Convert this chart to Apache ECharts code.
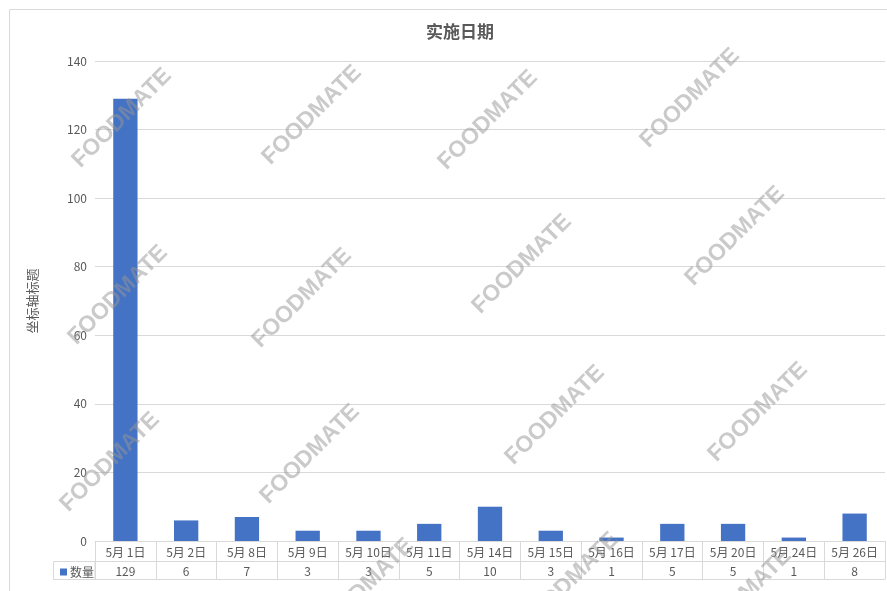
<!DOCTYPE html>
<html>
<head>
<meta charset="utf-8">
<script src="https://cdn.jsdelivr.net/npm/echarts@6/dist/echarts.min.js"></script>
<style>
html,body{margin:0;padding:0;background:#fff;}
#c{width:887px;height:591px;}
</style>
</head>
<body>
<div id="c"></div>
<script>
var categories = ['5月 1日','5月 2日','5月 8日','5月 9日','5月 10日','5月 11日','5月 14日','5月 15日','5月 16日','5月 17日','5月 20日','5月 24日','5月 26日'];
var counts = [129, 6, 7, 3, 3, 5, 10, 3, 1, 5, 5, 1, 8];
var seriesName = '数量';
var chartTitle = '实施日期';
var yTitle = '坐标轴标题';
var watermarkText = 'FOODMATE';
var watermarkSpots = [[122,118],[312,115],[488,120],[690,98],[118,295],[302,298],[522,264],[735,236],[110,462],[310,454],[555,415],[758,412],[364,588],[569,582],[742,598]];

var font = '"Noto Sans CJK SC", "Liberation Sans", sans-serif';
var grayLine = '#d9d9d9';
var txt = '#595959';

var graphics = [
  {type:'rect', shape:{x:9.5,y:9.5,width:900,height:620}, style:{fill:'none',stroke:grayLine,lineWidth:1}, z:0, silent:true},
  {type:'rect', shape:{x:53.5,y:561.5,width:41.5,height:18}, style:{fill:'none',stroke:grayLine,lineWidth:1}, z:1, silent:true}
];
watermarkSpots.forEach(function(p){
  graphics.push({type:'text', x:p[0], y:p[1], rotation:Math.PI/4, z:100, silent:true,
    style:{text:watermarkText, fill:'rgba(150,150,150,0.5)', font:'bold 23px "Liberation Sans", Arial, sans-serif', textAlign:'center', textVerticalAlign:'middle'}});
});

var chart = echarts.init(document.getElementById('c'));
chart.setOption({
  animation:false,
  backgroundColor:'#fff',
  title:{text:chartTitle, left:455, top:18, textAlign:'center', textStyle:{fontFamily:font, fontSize:17, fontWeight:'bold', color:txt}},
  legend:{data:[seriesName], left:55, top:561, icon:'rect', itemWidth:7, itemHeight:7, itemGap:4, textStyle:{fontFamily:font, fontSize:12, color:txt, padding:[0,0,0,-2]}, selectedMode:false},
  grid:{left:95, right:2, top:61, bottom:50, containLabel:false},
  xAxis:[
    {type:'category', data:categories, position:'bottom', boundaryGap:true,
      axisLine:{show:true, lineStyle:{color:grayLine}},
      axisTick:{show:true, alignWithLabel:false, interval:0, length:38, lineStyle:{color:grayLine}},
      axisLabel:{interval:0, margin:5, fontFamily:font, fontSize:12, color:txt},
      splitLine:{show:false}},
    {type:'category', data:counts.map(String), position:'bottom', offset:20, boundaryGap:true,
      axisLine:{show:true, lineStyle:{color:grayLine}},
      axisTick:{show:false},
      axisLabel:{interval:0, margin:4, fontFamily:font, fontSize:12, color:txt}},
    {type:'category', data:categories, position:'bottom', offset:38, boundaryGap:true,
      axisLine:{show:true, lineStyle:{color:grayLine}},
      axisTick:{show:false}, axisLabel:{show:false}}
  ],
  yAxis:{type:'value', min:0, max:140, interval:20,
    name:yTitle, nameLocation:'middle', nameGap:56, nameRotate:90,
    nameTextStyle:{fontFamily:font, fontSize:13, color:txt},
    axisLine:{show:false}, axisTick:{show:false},
    axisLabel:{margin:8, fontFamily:font, fontSize:12, color:txt},
    splitLine:{lineStyle:{color:grayLine}}},
  series:[{name:seriesName, type:'bar', data:counts, xAxisIndex:0, barWidth:'40%', itemStyle:{color:'#4472C4'}}],
  graphic:graphics
});
</script>
</body>
</html>
